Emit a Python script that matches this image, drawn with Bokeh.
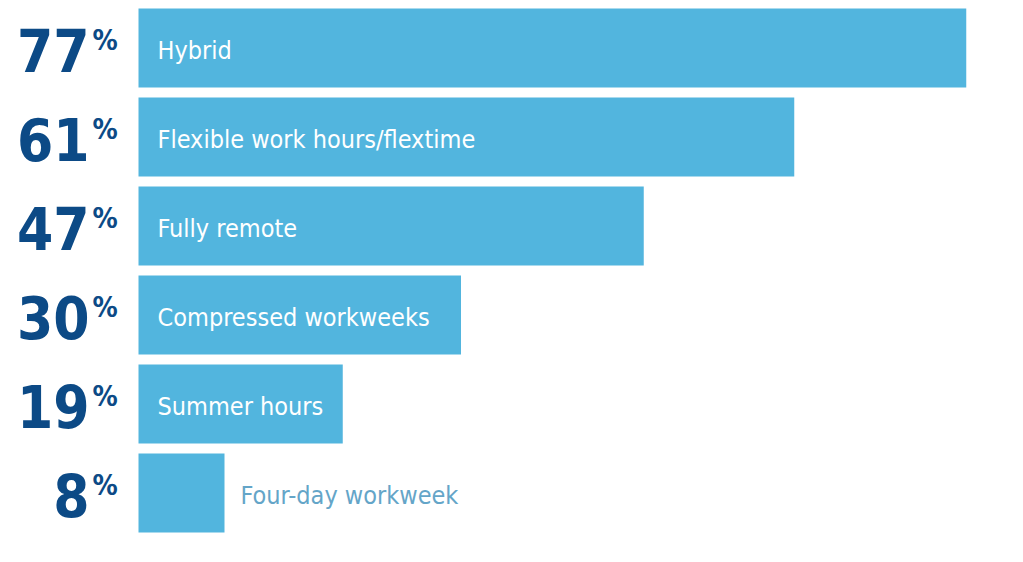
from bokeh.plotting import figure
from bokeh.models import Range1d, ColumnDataSource
from bokeh.embed import file_html
from bokeh.resources import INLINE
from bokeh.core.properties import value

categories = ["Hybrid", "Flexible work hours/flextime", "Fully remote",
              "Compressed workweeks", "Summer hours", "Four-day workweek"]
values = [77, 61, 47, 30, 19, 8]
number_labels = ["77", "61", "47", "30", "19", "8"]

BAR = "#52b5de"
NAVY = "#0c4a86"
OUT_TXT = "#64a5c8"
FONT = "DejaVu Sans Condensed"

W, H = 1015, 554
px_per_unit = 10.75
x0_px = 138
x_start = -x0_px / px_per_unit
x_end = (W - x0_px) / px_per_unit
pitch = 89.0
c0 = 47.5
y_top = -c0 / pitch
y_bot = (H - c0) / pitch

idx = list(range(len(categories)))
inside = [v >= 15 for v in values]
src = ColumnDataSource(dict(
    y=idx, v=values, cat=categories, num=number_labels,
    pct=["%"] * len(values),
    lx=[0 if ins else v for ins, v in zip(inside, values)],
    lxo=[19 if ins else 16 for ins in inside],
    lc=["white" if ins else OUT_TXT for ins in inside],
    zero=[0] * len(values),
))

p = figure(width=W, height=H, output_backend="svg", toolbar_location=None,
           x_range=Range1d(x_start, x_end), y_range=Range1d(y_bot, y_top),
           min_border=0, min_border_left=0, min_border_right=0,
           min_border_top=0, min_border_bottom=0)
p.axis.visible = False
p.grid.visible = False
p.outline_line_color = None
p.background_fill_color = "white"

p.hbar(y="y", left=0, right="v", height=79 / pitch, source=src,
       fill_color=BAR, line_color=None)

p.text(x="zero", y="y", text="num", source=src, x_offset=-49, y_offset=2,
       text_align="right", text_baseline="alphabetic",
       text_font=value(FONT), text_font_style="bold", text_font_size="58px",
       text_color=NAVY)
p.text(x="zero", y="y", text="pct", source=src, x_offset=-46, y_offset=-8,
       text_align="left", text_baseline="alphabetic",
       text_font=value(FONT), text_font_style="bold", text_font_size="28px",
       text_color=NAVY)
p.text(x="lx", y="y", text="cat", source=src, x_offset="lxo", y_offset=2,
       text_align="left", text_baseline="alphabetic",
       text_font=value(FONT), text_font_size="25px", text_color="lc")

open("out.html", "w").write(file_html(p, INLINE))
